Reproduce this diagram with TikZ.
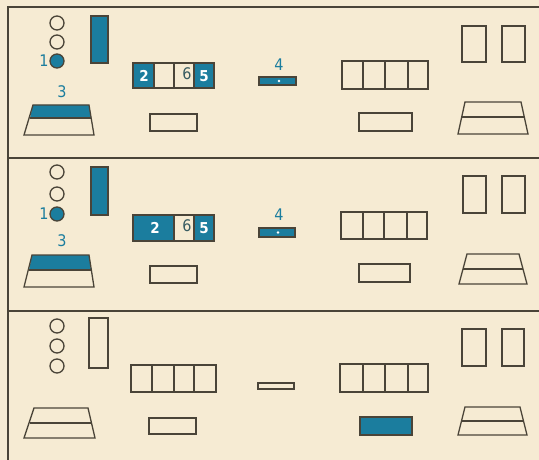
\documentclass[tikz,border=0pt]{standalone}
\usepackage{fontspec}
\setmainfont{DejaVu Sans Condensed}
\definecolor{bg}{HTML}{F6EBD3}
\definecolor{ln}{HTML}{4A4438}
\definecolor{bl}{HTML}{1B7D9E}
\begin{document}
\begin{tikzpicture}[x=1pt,y=-1pt,
  line width=1.3pt,
  outl/.style={draw=ln,line width=1.3pt},
  fillb/.style={draw=ln,fill=bl,line width=1.3pt},
  lab/.style={text=bl,font=\fontsize{16}{16}\selectfont,inner sep=0pt},
  wlab/.style={text=white,font=\bfseries\fontsize{15}{15}\selectfont,inner sep=0pt},
  frame/.style={draw=ln,line width=1.6pt}]
\fill[bg] (0,0) rectangle (539,460);
\useasboundingbox (0,0) rectangle (539,460);
% frame
\draw[frame] (8,460) -- (8,7) -- (539,7);
\draw[frame] (8,158) -- (539,158);
\draw[frame] (8,311) -- (539,311);

% ===== Panel 1 =====
\draw[outl] (57,23) circle (7);
\draw[outl] (57,42) circle (7);
\draw[fillb] (57,61) circle (7);
\node[lab] (p1one) at (44,61) {1};
\draw[fillb] (91,16) rectangle (108,63);
\node[lab] (p1three) at (62,92) {3};
\fill[bl] (33,105) -- (89,105) -- (91,118) -- (30,118) -- cycle;
\draw[outl] (33,105) -- (89,105) -- (94,135) -- (24,135) -- cycle;
\draw[outl] (30,118) -- (91,118);
% 2 6 5
\fill[bl] (133,63) rectangle (154,88);
\fill[bl] (194,63) rectangle (214,88);
\draw[outl] (133,63) rectangle (214,88);
\draw[outl] (154,63) -- (154,88);
\draw[outl] (174,63) -- (174,88);
\draw[outl] (194,63) -- (194,88);
\node[wlab] (p1two) at (144,76) {2};
\node[lab,text=ln!60!bl] (p1six) at (187,74) {6};
\node[wlab] (p1five) at (204,76) {5};
\draw[outl] (150,114) rectangle (197,131);
% 4 bar
\node[lab] (p1four) at (279,65) {4};
\draw[fillb] (259,77) rectangle (296,85);
\fill[white] (279,81) circle (1.3);
% four cells
\draw[outl] (342,61) rectangle (428,89);
\draw[outl] (363,61) -- (363,89);
\draw[outl] (385,61) -- (385,89);
\draw[outl] (408,61) -- (408,89);
\draw[outl] (359,113) rectangle (412,131);
\draw[outl] (462,26) rectangle (486,62);
\draw[outl] (502,26) rectangle (525,62);
\draw[outl] (465,102) -- (521,102) -- (528,134) -- (458,134) -- cycle;
\draw[outl] (462,117) -- (525,117);

% ===== Panel 2 =====
\draw[outl] (57,172) circle (7);
\draw[outl] (57,194) circle (7);
\draw[fillb] (57,214) circle (7);
\node[lab] (p2one) at (44,214) {1};
\draw[fillb] (91,167) rectangle (108,215);
\node[lab] (p2three) at (62,241) {3};
\fill[bl] (32,255) -- (89,255) -- (91,270) -- (29,270) -- cycle;
\draw[outl] (32,255) -- (89,255) -- (94,287) -- (24,287) -- cycle;
\draw[outl] (29,270) -- (91,270);
% 2 6 5
\fill[bl] (133,215) rectangle (174,241);
\fill[bl] (194,215) rectangle (214,241);
\draw[outl] (133,215) rectangle (214,241);
\draw[outl] (174,215) -- (174,241);
\draw[outl] (194,215) -- (194,241);
\node[wlab] (p2two) at (155,228) {2};
\node[lab,text=ln!60!bl] (p2six) at (187,226) {6};
\node[wlab] (p2five) at (204,228) {5};
\draw[outl] (150,266) rectangle (197,283);
% 4 bar
\node[lab] (p2four) at (279,215) {4};
\draw[fillb] (259,228) rectangle (295,237);
\fill[white] (278,232.5) circle (1.3);
% four cells
\draw[outl] (341,212) rectangle (427,239);
\draw[outl] (363,212) -- (363,239);
\draw[outl] (384,212) -- (384,239);
\draw[outl] (407,212) -- (407,239);
\draw[outl] (359,264) rectangle (410,282);
\draw[outl] (463,176) rectangle (486,213);
\draw[outl] (502,176) rectangle (525,213);
\draw[outl] (467,254) -- (519,254) -- (527,284) -- (459,284) -- cycle;
\draw[outl] (463,269) -- (523,269);

% ===== Panel 3 =====
\draw[outl] (57,326) circle (7);
\draw[outl] (57,346) circle (7);
\draw[outl] (57,366) circle (7);
\draw[outl] (89,318) rectangle (108,368);
\draw[outl] (131,365) rectangle (216,392);
\draw[outl] (152,365) -- (152,392);
\draw[outl] (174,365) -- (174,392);
\draw[outl] (194,365) -- (194,392);
\draw[outl] (34,408) -- (88,408) -- (95,438) -- (24,438) -- cycle;
\draw[outl] (30,423) -- (92,423);
\draw[outl] (149,418) rectangle (196,434);
\draw[outl] (258,383) rectangle (294,389);
\draw[outl] (340,364) rectangle (428,392);
\draw[outl] (363,364) -- (363,392);
\draw[outl] (385,364) -- (385,392);
\draw[outl] (408,364) -- (408,392);
\draw[fillb] (360,417) rectangle (412,435);
\draw[outl] (462,329) rectangle (486,366);
\draw[outl] (502,329) rectangle (524,366);
\draw[outl] (465,407) -- (520,407) -- (527,435) -- (458,435) -- cycle;
\draw[outl] (462,421) -- (524,421);
\end{tikzpicture}
\end{document}
